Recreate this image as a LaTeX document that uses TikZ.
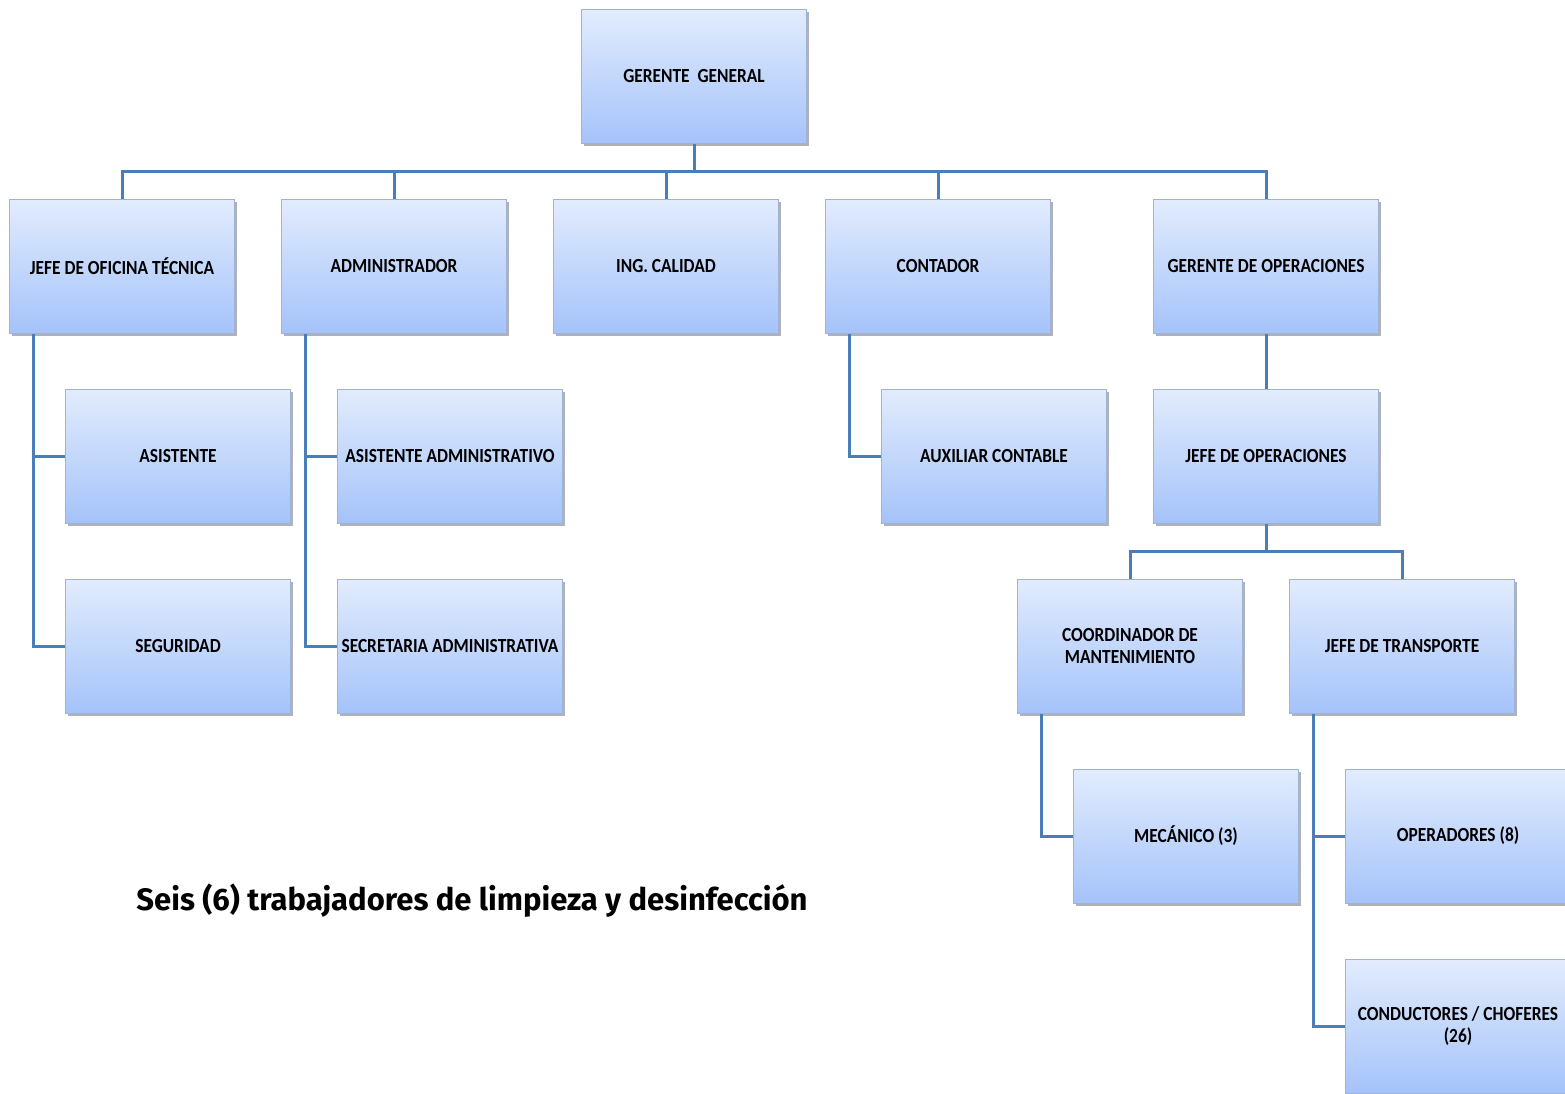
\documentclass[tikz,border=0pt]{standalone}
\usepackage{fontspec}
\setmainfont{Carlito}
\newfontfamily\boxfont[FakeStretch=0.87]{Carlito}
\newfontfamily\notefont{Fira Sans}
\usetikzlibrary{shadows}
\definecolor{linkblue}{HTML}{4A7EBB}
\definecolor{boxtop}{HTML}{E2ECFD}
\definecolor{boxbot}{HTML}{A5C3FA}
\definecolor{boxedge}{HTML}{9FB3D6}

\begin{document}
\begin{tikzpicture}[
    x=1pt, y=-1pt,
    box/.style={rectangle, draw=boxedge, line width=1pt, top color=boxtop, bottom color=boxbot,
      minimum width=225pt, minimum height=134pt, align=center, inner sep=2pt,
      font={\boxfont\bfseries\fontsize{20}{22}\selectfont},
      drop shadow={shadow xshift=2.5pt, shadow yshift=-2.5pt, fill=black, opacity=0.3}},
    link/.style={draw=linkblue, line width=3pt},
    note/.style={font={\notefont\bfseries\fontsize{31}{35}\selectfont}}
]
    \useasboundingbox (0,0) rectangle (1565,1093);

    % top
    \node[box] (gg) at (694,76) {GERENTE~~GENERAL};

    % first level
    \node[box] (jot)  at (122,266)  {JEFE DE OFICINA TÉCNICA};
    \node[box] (adm)  at (394,266)  {ADMINISTRADOR};
    \node[box] (ing)  at (666,266)  {ING. CALIDAD};
    \node[box] (cont) at (938,266)  {CONTADOR};
    \node[box] (gop)  at (1266,266) {GERENTE DE OPERACIONES};

    % second level
    \node[box] (asis)  at (178,456)  {ASISTENTE};
    \node[box] (asadm) at (450,456)  {ASISTENTE ADMINISTRATIVO};
    \node[box] (aux)   at (994,456)  {AUXILIAR CONTABLE};
    \node[box] (jop)   at (1266,456) {JEFE DE OPERACIONES};

    % third level
    \node[box] (seg)   at (178,646)  {SEGURIDAD};
    \node[box] (sec)   at (450,646)  {SECRETARIA ADMINISTRATIVA};
    \node[box] (coord) at (1130,646) {COORDINADOR DE\\MANTENIMIENTO};
    \node[box] (jtr)   at (1402,646) {JEFE DE TRANSPORTE};

    % fourth and fifth level
    \node[box] (mec)  at (1186,836) {MECÁNICO (3)};
    \node[box] (oper) at (1458,836) {OPERADORES (8)};
    \node[box] (cond) at (1458,1026) {CONDUCTORES / CHOFERES\\(26)};

    \node[note] (limp) at (472,901) {Seis (6) trabajadores de limpieza y desinfección};

    % connectors
    \coordinate (bus1) at (694,171);
    \coordinate (bus2) at (1266,551);
    \draw[link] (gg) -- (bus1);
    \draw[link] (bus1) -| (jot.north);
    \draw[link] (bus1) -| (adm.north);
    \draw[link] (bus1) -| (ing.north);
    \draw[link] (bus1) -| (cont.north);
    \draw[link] (bus1) -| (gop.north);
    \draw[link] (gop) -- (jop);
    \draw[link] (jop) -- (bus2);
    \draw[link] (bus2) -| (coord.north);
    \draw[link] (bus2) -| (jtr.north);

    \draw[link] ([xshift=-89pt]jot.south) |- (asis.west);
    \draw[link] ([xshift=-89pt]jot.south) |- (seg.west);
    \draw[link] ([xshift=-89pt]adm.south) |- (asadm.west);
    \draw[link] ([xshift=-89pt]adm.south) |- (sec.west);
    \draw[link] ([xshift=-89pt]cont.south) |- (aux.west);
    \draw[link] ([xshift=-89pt]coord.south) |- (mec.west);
    \draw[link] ([xshift=-89pt]jtr.south) |- (oper.west);
    \draw[link] ([xshift=-89pt]jtr.south) |- (cond.west);
\end{tikzpicture}
\end{document}
